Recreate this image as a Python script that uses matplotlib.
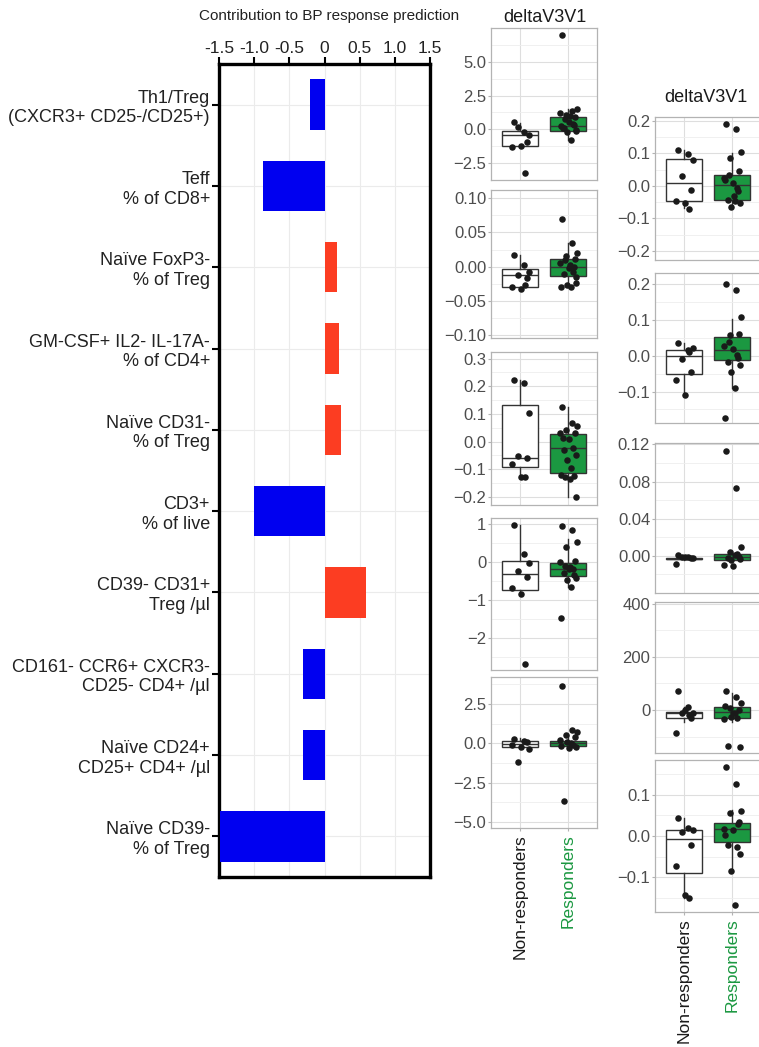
import matplotlib
matplotlib.use('Agg')
import matplotlib.pyplot as plt
import numpy as np

plt.rcParams['font.family'] = ['Liberation Sans', 'DejaVu Sans']

W, H = 759, 1047
fig = plt.figure(figsize=(W / 100, H / 100), dpi=100)


def px_axes(x0, y0, x1, y1):
    # pixel box (from top-left) -> figure fraction
    return fig.add_axes([x0 / W, 1 - y1 / H, (x1 - x0) / W, (y1 - y0) / H])


# ---- bar chart data ----
features = ["Th1/Treg\n(CXCR3+ CD25-/CD25+)", "Teff\n% of CD8+", "Naïve FoxP3-\n% of Treg",
            "GM-CSF+ IL2- IL-17A-\n% of CD4+", "Naïve CD31-\n% of Treg", "CD3+\n% of live",
            "CD39- CD31+\nTreg /µl", "CD161- CCR6+ CXCR3-\nCD25- CD4+ /µl",
            "Naïve CD24+\nCD25+ CD4+ /µl", "Naïve CD39-\n% of Treg"]
contrib = [-0.21, -0.87, 0.18, 0.20, 0.24, -1.00, 0.59, -0.31, -0.30, -1.49]
contrib_ticks = [-1.5, -1.0, -0.5, 0, 0.5, 1.0, 1.5]
contrib_labels = ['-1.5', '-1.0', '-0.5', '0', '0.5', '1.0', '1.5']

groups = ['Non-responders', 'Responders']

# ---- boxplot data: points and (whislo, q1, med, q3, whishi) ----
m1_nr = [0.57, -0.22, -0.42, 0.2, -0.91, -1.28, -1.2, -3.25]
m1_r = [6.97, 1.35, 1.5, 1.06, 0.94, 1.18, 0.57, 0.39, 0.07, -0.05, -0.17, -0.79, 0.25, 0.3, 0.8, 1.0, -0.1, 0.1]
m1_nr_box = [-1.3, -1.2, -0.42, -0.12, 0.5]
m1_r_box = [-0.79, -0.12, 0.25, 0.94, 1.5]

m2_nr = [0.017, 0.002, -0.007, -0.012, -0.017, -0.029, -0.032, -0.027]
m2_r = [0.070, 0.035, 0.0195, 0.016, 0.012, 0.005, -0.002, -0.007, -0.010, -0.023, -0.027, -0.030, -0.029, 0.0, 0.010, 0.003, -0.015]
m2_nr_box = [-0.033, -0.029, -0.012, -0.004, 0.017]
m2_r_box = [-0.030, -0.014, 0.0, 0.012, 0.035]

m3_nr = [0.223, 0.213, 0.105, -0.052, -0.060, -0.081, -0.127, -0.127]
m3_r = [0.124, 0.066, 0.057, 0.042, 0.033, 0.030, 0.008, -0.024, -0.030, -0.048, -0.066, -0.096, -0.120, -0.124, -0.126, -0.136, -0.201, 0.012]
m3_nr_box = [-0.127, -0.093, -0.060, 0.133, 0.223]
m3_r_box = [-0.201, -0.112, -0.022, 0.027, 0.124]

m4_nr = [0.96, 0.19, -0.04, -0.25, -0.41, -0.70, -0.85, -2.68]
m4_r = [0.94, 0.83, 0.51, 0.38, 0.02, -0.02, -0.2, -0.18, -0.31, -0.44, -0.48, -0.66, -1.49, -0.35, -0.11, -0.15]
m4_nr_box = [-0.85, -0.75, -0.33, 0.02, 0.96]
m4_r_box = [-0.66, -0.38, -0.18, -0.04, 0.59]

m5_nr = [0.28, 0.17, -0.36, -1.17, 0.1, -0.1, -0.25]
m5_r = [3.64, 0.85, 0.72, 0.53, 0.42, 0.21, -0.32, -0.1, -3.67, -0.21, 0.1, 0.05, -0.15]
m5_nr_box = [-0.38, -0.25, -0.04, 0.17, 0.32]
m5_r_box = [-0.38, -0.17, 0.04, 0.17, 0.53]

r1_nr = [0.111, 0.098, 0.080, 0.029, -0.012, -0.045, -0.053, -0.072]
r1_r = [0.190, 0.174, 0.103, 0.087, 0.046, 0.024, 0.008, -0.007, -0.043, -0.053, -0.064, -0.048, 0.018, -0.017, 0.035, -0.030]
r1_nr_box = [-0.069, -0.046, 0.008, 0.082, 0.111]
r1_r_box = [-0.064, -0.043, 0.003, 0.034, 0.100]

r2_nr = [0.037, 0.017, 0.021, -0.008, -0.044, -0.067, -0.109, 0.012]
r2_r = [0.200, 0.185, 0.108, 0.059, 0.062, 0.028, 0.019, 0.003, -0.016, -0.025, -0.044, -0.089, -0.175, -0.007, 0.040]
r2_nr_box = [-0.105, -0.051, 0.0, 0.017, 0.037]
r2_r_box = [-0.091, -0.011, 0.017, 0.052, 0.103]

r3_nr = [0.001, -0.001, -0.002, -0.001, -0.002, -0.009, -0.0015]
r3_r = [0.113, 0.073, 0.009, 0.004, -0.001, -0.010, -0.011, 0.002, -0.002, -0.0035, -0.005, 0.001]
r3_nr_box = [-0.005, -0.0035, -0.003, -0.002, -0.001]
r3_r_box = [-0.007, -0.004, -0.001, 0.002, 0.005]

r4_nr = [72, 10, -10, -13, -29, -88, 0, -20]
r4_r = [73, 48, 25, 6, 0, -35, -13, -31, -136, -138, -25, -13, 15]
r4_nr_box = [-44, -29, -13, -6, 13]
r4_r_box = [-44, -31, -6, 13, 63]

r5_nr = [0.043, 0.019, 0.0145, 0.009, -0.022, -0.073, -0.144, -0.151]
r5_r = [0.166, 0.127, 0.060, 0.056, 0.035, 0.017, 0.015, -0.026, -0.022, -0.044, -0.084, -0.167, 0.002, 0.028]
r5_nr_box = [-0.151, -0.090, -0.008, 0.0145, 0.043]
r5_r_box = [-0.084, -0.015, 0.017, 0.032, 0.063]

JITTER = [-0.12, 0.08, 0.18, -0.05, 0.14, -0.16, 0.02, 0.11, -0.09, 0.16,
          -0.02, 0.06, -0.14, 0.12, -0.07, 0.04, 0.17, -0.11, 0.09, -0.04]

GREEN = '#1b9841'
BLUE = '#0000f0'
RED = '#fc3d22'
TXT = '#4d4d4d'

# ---------------- bar panel ----------------
ax = px_axes(219, 64, 430, 877)
ypos = np.arange(len(features))
ax.barh(ypos, contrib, height=0.62, color=[BLUE if v < 0 else RED for v in contrib], zorder=3)
ax.set_xlim(-1.5, 1.5)
ax.set_ylim(len(features) - 0.5, -0.5)
ax.xaxis.tick_top()
ax.set_xticks(contrib_ticks)
ax.set_xticklabels(contrib_labels, fontsize=12.5, color='#222222')
ax.set_yticks(ypos)
ax.set_yticklabels(features, fontsize=13, color='#222222', linespacing=1.2)
ax.tick_params(axis='x', direction='out', length=5, width=1.5, pad=1)
ax.tick_params(axis='y', direction='out', length=5, width=1.5, pad=1.5)
ax.grid(True, color='#ebebeb', lw=0.8, zorder=0)
ax.set_axisbelow(True)
for s in ax.spines.values():
    s.set_linewidth(2.4)
    s.set_color('black')
fig.text(329 / W, 1 - 16 / H, 'Contribution to BP response prediction', fontsize=11,
         ha='center', va='center', color='#222222')


def box_panel(ax, nr, r, nr_box, r_box, ylim, ticks, labels, bottom=False):
    stats = []
    for b in (nr_box, r_box):
        stats.append(dict(whislo=b[0], q1=b[1], med=b[2], q3=b[3], whishi=b[4], fliers=[]))
    line = dict(color='#333333', linewidth=1.0)
    bp = ax.bxp(stats, positions=[1, 2], widths=0.75, patch_artist=True, showfliers=False,
                showcaps=False, boxprops=dict(edgecolor='#333333', linewidth=1.0),
                medianprops=line, whiskerprops=line, zorder=2)
    bp['boxes'][0].set_facecolor('white')
    bp['boxes'][1].set_facecolor(GREEN)
    for pos, vals in ((1, nr), (2, r)):
        xs = [pos + JITTER[i % len(JITTER)] for i in range(len(vals))]
        ax.scatter(xs, vals, s=22, color='#1a1a1a', zorder=4, linewidths=0)
    ax.set_xlim(0.4, 2.6)
    ax.set_ylim(ylim)
    ax.set_xticks([1, 2])
    ax.set_yticks(ticks)
    ax.set_yticklabels(labels, fontsize=12, color=TXT)
    step = ticks[1] - ticks[0]
    ax.set_yticks(np.arange(ticks[0] - step * 2.5, ylim[1], step), minor=True)
    ax.tick_params(axis='y', which='major', length=2.5, width=0.8, color='#b3b3b3', pad=1)
    ax.tick_params(axis='y', which='minor', length=0)
    ax.set_ylim(ylim)
    ax.grid(True, which='major', color='#dedede', lw=0.8, zorder=0)
    ax.grid(True, which='minor', axis='y', color='#eeeeee', lw=0.6, zorder=0)
    ax.set_axisbelow(True)
    for s in ax.spines.values():
        s.set_color('#b3b3b3')
        s.set_linewidth(0.9)
    if bottom:
        ax.set_xticklabels(groups, rotation=90, fontsize=12.5)
        ax.get_xticklabels()[0].set_color('#1a1a1a')
        ax.get_xticklabels()[1].set_color(GREEN)
        ax.tick_params(axis='x', length=2.5, width=0.8, color='#b3b3b3', pad=2)
    else:
        ax.set_xticklabels([])
        ax.tick_params(axis='x', length=0)


M = '\u2212'
# middle column
box_panel(px_axes(491, 28, 597, 180), m1_nr, m1_r, m1_nr_box, m1_r_box, (-3.75, 7.5),
          [-2.5, 0, 2.5, 5.0], [M + '2.5', '0.0', '2.5', '5.0'])
box_panel(px_axes(491, 190, 597, 338), m2_nr, m2_r, m2_nr_box, m2_r_box, (-0.104, 0.112),
          [-0.10, -0.05, 0, 0.05, 0.10], [M + '0.10', M + '0.05', '0.00', '0.05', '0.10'])
box_panel(px_axes(491, 352, 597, 505), m3_nr, m3_r, m3_nr_box, m3_r_box, (-0.229, 0.324),
          [-0.2, -0.1, 0, 0.1, 0.2, 0.3], [M + '0.2', M + '0.1', '0.0', '0.1', '0.2', '0.3'])
box_panel(px_axes(491, 518, 597, 670), m4_nr, m4_r, m4_nr_box, m4_r_box, (-2.85, 1.15),
          [-2, -1, 0, 1], [M + '2', M + '1', '0', '1'])
box_panel(px_axes(491, 677, 597, 828), m5_nr, m5_r, m5_nr_box, m5_r_box, (-5.39, 4.22),
          [-5.0, -2.5, 0, 2.5], [M + '5.0', M + '2.5', '0.0', '2.5'], bottom=True)
fig.text(545 / W, 1 - 17 / H, 'deltaV3V1', fontsize=13, ha='center', va='center', color='#1a1a1a')

# right column
box_panel(px_axes(655, 117, 761, 260), r1_nr, r1_r, r1_nr_box, r1_r_box, (-0.228, 0.212),
          [-0.2, -0.1, 0, 0.1, 0.2], [M + '0.2', M + '0.1', '0.0', '0.1', '0.2'])
box_panel(px_axes(655, 273, 761, 423), r2_nr, r2_r, r2_nr_box, r2_r_box, (-0.188, 0.232),
          [-0.1, 0, 0.1, 0.2], [M + '0.1', '0.0', '0.1', '0.2'])
box_panel(px_axes(655, 443, 761, 593), r3_nr, r3_r, r3_nr_box, r3_r_box, (-0.040, 0.1215),
          [0, 0.04, 0.08, 0.12], ['0.00', '0.04', '0.08', '0.12'])
box_panel(px_axes(655, 602, 761, 753), r4_nr, r4_r, r4_nr_box, r4_r_box, (-162, 407),
          [0, 200, 400], ['0', '200', '400'])
box_panel(px_axes(655, 760, 761, 912), r5_nr, r5_r, r5_nr_box, r5_r_box, (-0.184, 0.184),
          [-0.1, 0, 0.1], [M + '0.1', '0.0', '0.1'], bottom=True)
fig.text(706 / W, 1 - 98 / H, 'deltaV3V1', fontsize=13, ha='center', va='center', color='#1a1a1a')

fig.savefig('out.png', dpi=100)
